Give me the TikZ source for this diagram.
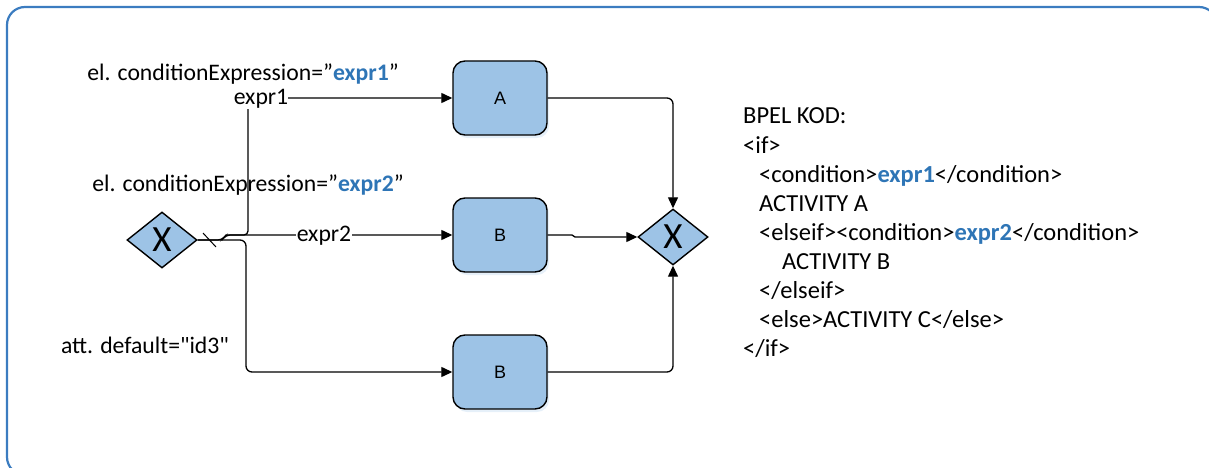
\documentclass[tikz,border=0pt]{standalone}
\usepackage{fontspec}
\setmainfont{Carlito}
\newfontfamily\boxfont{Liberation Sans}
\usetikzlibrary{arrows.meta,shapes.geometric,shadows}

\definecolor{frameblue}{HTML}{3B7CC0}
\definecolor{actblue}{HTML}{9DC3E6}
\definecolor{exprblue}{HTML}{2E75B6}

\tikzset{
  activity/.style={draw, rounded corners=12pt, fill=actblue, line width=1.4pt,
    minimum width=94pt, minimum height=74pt, font=\boxfont\fontsize{18}{20}\selectfont,
    drop shadow={shadow xshift=2pt, shadow yshift=-3pt, opacity=0.25, fill=actblue}},
  gateway/.style={draw, diamond, fill=actblue, line width=1.4pt,
    minimum width=70pt, minimum height=56pt, inner sep=0pt,
    label={[font=\fontsize{37}{37}\selectfont]center:X}},
  flow/.style={-{Triangle[length=11pt,width=10pt]}, line width=1.3pt},
  lbl/.style={font=\fontsize{23.7}{28}\selectfont, inner sep=1pt},
  codeline/.style={anchor=base west, inner sep=0pt, font=\fontsize{24.5}{29}\selectfont},
}

\begin{document}
\begin{tikzpicture}[x=1pt, y=-1pt]
\useasboundingbox (0,0) rectangle (1209,468);
\clip (0,0) rectangle (1209,468);
\draw [frameblue, line width=2.2pt, rounded corners=18pt] (7,7) rectangle (1217,475);

\node (gwsplit) [gateway] at (162,240) {};
\node (gwjoin) [gateway] at (673,237) {};
\node (actA) [activity] at (500,98) {A};
\node (actB) [activity] at (500,235) {B};
\node (actC) [activity] at (500,372) {B};

\coordinate (fork) at (222,240);

% outgoing flows of the split
\draw [flow, rounded corners=4pt] (gwsplit.east) -- (fork) -- (226,235) -- (248,235) -- (248,98) -- (actA.west);
\draw [flow] (gwsplit.east) -- (fork) -- (226,235) -- (actB.west);
\draw [flow, rounded corners=6pt] (fork) -- (246,240) -- (246,372) -- (actC.west);
\draw [line width=1pt] (203,233) -- (216,247);

% incoming flows of the join
\draw [flow, rounded corners=6pt] (actA.east) -| (gwjoin.north);
\draw [flow] (actB.east) -- (572,235) -- (575,237) -- (gwjoin.west);
\draw [flow, rounded corners=6pt] (actC.east) -| (gwjoin.south);

\node (cond1) [lbl, inner sep=0pt] at (243,74) {el. conditionExpression=”\textbf{\textcolor{exprblue}{expr1}}”};
\node (expr1) [lbl, fill=white, inner sep=0pt] at (261,99) {expr1};
\node (cond2) [lbl] at (248,185) {el. conditionExpression=”\textbf{\textcolor{exprblue}{expr2}}”};
\node (expr2) [lbl, fill=white] at (324,236) {expr2};
\node (dflt) [lbl] at (145,345) {att. default=\textquotedbl id3\textquotedbl};

% BPEL code
\node (kod) [codeline] at (743,124) {BPEL KOD:};
\node (ifopen) [codeline] at (743,153) {<if>};
\node (cond) [codeline] at (759,182) {<condition>\textbf{\textcolor{exprblue}{expr1}}</condition>};
\node (actvA) [codeline] at (759,211) {ACTIVITY A};
\node (elseif) [codeline] at (759,240) {<elseif><condition>\textbf{\textcolor{exprblue}{expr2}}</condition>};
\node (actvB) [codeline] at (782,269) {ACTIVITY B};
\node (elseifclose) [codeline] at (759,298) {</elseif>};
\node (else) [codeline] at (759,327) {<else>ACTIVITY C</else>};
\node (ifclose) [codeline] at (743,356) {</if>};
\end{tikzpicture}
\end{document}
